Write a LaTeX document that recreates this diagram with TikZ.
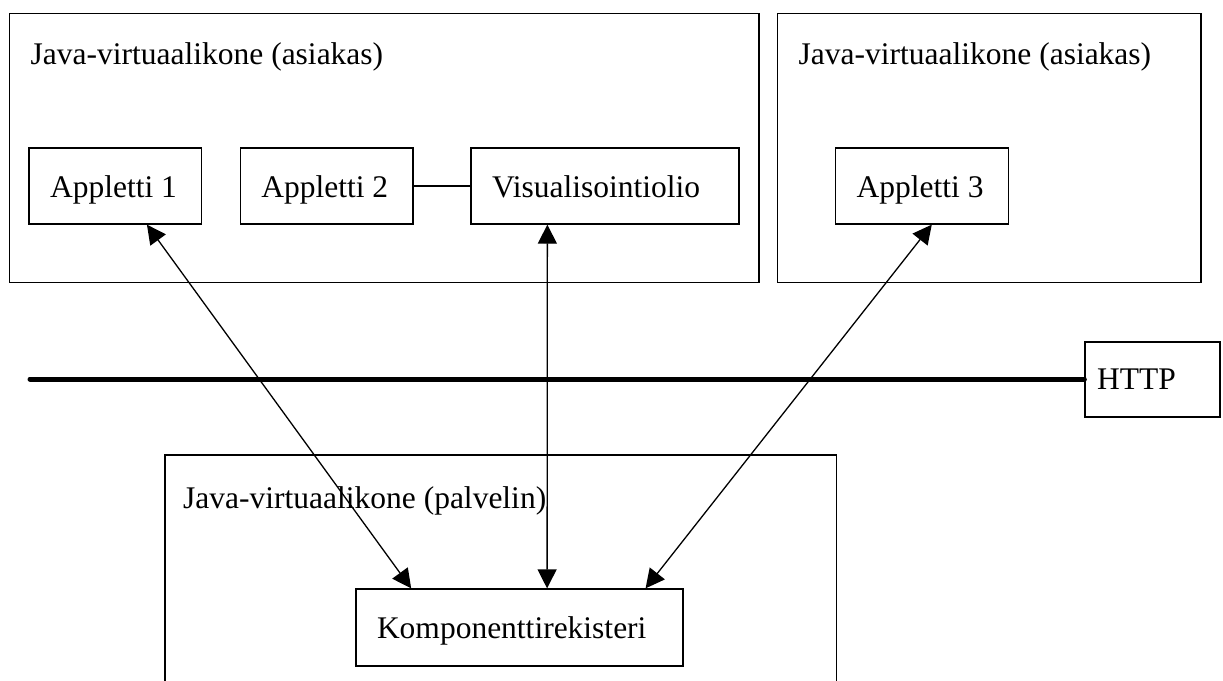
\documentclass[tikz,border=0pt]{standalone}
\usepackage{fontspec}
\setmainfont{Liberation Serif}
\usetikzlibrary{arrows.meta,calc}

\tikzset{
  box/.style={draw, line width=1.3pt, inner ysep=0pt, inner xsep=21pt,
    minimum height=76pt, text height=26pt, text depth=4pt, align=flush left},
  vm/.style={draw, line width=1.3pt},
  title/.style={anchor=base west, inner sep=0pt},
  link/.style={line width=1.3pt, {Triangle[length=19pt,width=19pt]}-{Triangle[length=19pt,width=19pt]}},
  bus/.style={line width=5pt, line cap=round}
}

\begin{document}
\begin{tikzpicture}[x=1pt, y=-1pt, font=\fontsize{31.5}{36}\selectfont]
\useasboundingbox (0,0) rectangle (1223,680);

% virtual machines
\begin{scope}
  \clip (0,0) rectangle (1223,680);
  \draw[vm] (9.5,13.3) rectangle (759,282.7);
  \draw[vm] (777.7,13.3) rectangle (1201,282.7);
  \draw[vm] (165,455) rectangle (836.7,720);
\end{scope}
\node[title] (t1) at (30.5,64) {Java-virtuaalikone (asiakas)};
\node[title] (t2) at (798.5,64) {Java-virtuaalikone (asiakas)};
\node[title] (t3) at (183,508) {Java-virtuaalikone (palvelin)};

% components (box width = text width + 42)
\node[box, text width=130.5pt] (a1) at (115.3,186) {Appletti 1};
\node[box, text width=130.7pt] (a2) at (326.7,186) {Appletti 2};
\node[box, text width=226pt] (vis) at (605,186) {Visualisointiolio};
\node[box, text width=131pt] (a3) at (922.2,186) {Appletti 3};
\node[box, text width=285pt, minimum height=77pt] (reg) at (519.5,627.5) {Komponenttirekisteri};
\node[box, inner xsep=12pt, text width=111pt, minimum height=75pt, text height=24pt, text depth=5pt] (http) at (1152.5,379.5) {HTTP};

% network
\coordinate (busstart) at (30,379);
\draw[bus] (busstart) -- (busstart -| http.west);

% connections
\draw[line width=1.3pt] (a2.east) -- (vis.west);
\draw[link] ($(a1.south west)!0.682!(a1.south east)$) -- ($(reg.north west)!0.17!(reg.north east)$);
\draw[link] ($(vis.south west)!0.286!(vis.south east)$) -- ($(reg.north west)!0.584!(reg.north east)$);
\draw[link] ($(a3.south west)!0.555!(a3.south east)$) -- ($(reg.north west)!0.884!(reg.north east)$);
\end{tikzpicture}
\end{document}
